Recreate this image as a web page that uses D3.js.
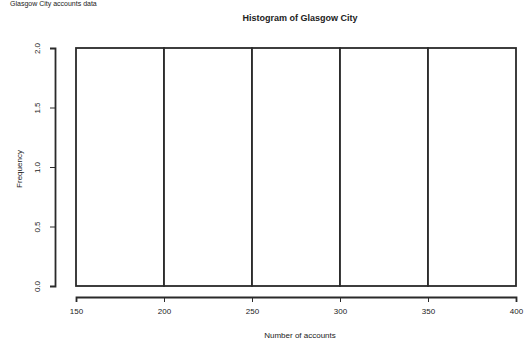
<!DOCTYPE html>
<html>
<head>
<meta charset="utf-8">
<script src="https://cdn.jsdelivr.net/npm/d3@7"></script>
<style>
  body { margin: 0; background: #fff; }
  text { font-family: "Liberation Sans", Arial, sans-serif; fill: #222; }
</style>
</head>
<body>
<div id="chart"></div>
<script>
// histogram bins (number of accounts) and counts
var binStarts = [150, 200, 250, 300, 350];
var binWidth = 50;
var counts = [2, 2, 2, 2, 2];
var xTicks = [150, 200, 250, 300, 350, 400];
var yTicks = [0, 0.5, 1, 1.5, 2];

var W = 525, H = 345;
var margin = {top: 48, right: 9, bottom: 59, left: 76};

var svg = d3.select("#chart").append("svg")
    .attr("width", W)
    .attr("height", H);

var xScale = d3.scaleLinear().domain([150, 400]).range([margin.left, W - margin.right]);
var yScale = d3.scaleLinear().domain([0, 2]).range([H - margin.bottom, margin.top]);

// bars
svg.selectAll("rect.bar")
    .data(binStarts)
  .enter().append("rect")
    .attr("class", "bar")
    .attr("x", function (d) { return xScale(d); })
    .attr("y", function (d, i) { return yScale(counts[i]); })
    .attr("width", function (d) { return xScale(d + binWidth) - xScale(d); })
    .attr("height", function (d, i) { return yScale(0) - yScale(counts[i]); })
    .attr("fill", "#fff")
    .attr("stroke", "#2a2a2a")
    .attr("stroke-width", 1.8);

// x axis, offset below the plot like base R
var xAxis = svg.append("g")
    .attr("transform", "translate(0," + (H - margin.bottom + 11) + ")")
    .call(d3.axisBottom(xScale).tickValues(xTicks).tickSize(5).tickPadding(6)
      .tickFormat(d3.format("d")));
xAxis.select(".domain").attr("stroke", "#2a2a2a").attr("stroke-width", 1.8);
xAxis.selectAll(".tick line").attr("stroke", "#2a2a2a");
xAxis.selectAll("text").style("font-size", "8px").attr("fill", "#222");

// y axis
var yAxis = svg.append("g")
    .attr("transform", "translate(" + (margin.left - 21) + ",0)")
    .call(d3.axisLeft(yScale).tickValues(yTicks).tickSize(5).tickPadding(8)
      .tickFormat(d3.format(".1f")));
yAxis.select(".domain").attr("stroke", "#2a2a2a").attr("stroke-width", 1.8);
yAxis.selectAll(".tick line").attr("stroke", "#2a2a2a");
yAxis.selectAll("text")
    .style("font-size", "8px")
    .attr("fill", "#222")
    .attr("text-anchor", "middle")
    .attr("dy", 0)
    .attr("transform", function () {
      return "rotate(-90," + d3.select(this).attr("x") + ",0) translate(0,-2)";
    });

// title and axis labels
svg.append("text")
    .attr("x", (xScale(150) + xScale(400)) / 2 + 4)
    .attr("y", 21)
    .attr("text-anchor", "middle")
    .style("font-size", "9px")
    .style("font-weight", "bold")
    .text("Histogram of Glasgow City");

svg.append("text")
    .attr("x", (xScale(150) + xScale(400)) / 2 + 4)
    .attr("y", 338)
    .attr("text-anchor", "middle")
    .style("font-size", "8px")
    .text("Number of accounts");

svg.append("text")
    .attr("transform", "translate(22," + (yScale(1) + 2) + ") rotate(-90)")
    .attr("text-anchor", "middle")
    .style("font-size", "8px")
    .text("Frequency");

// small caption at the very top left
svg.append("text")
    .attr("x", 10)
    .attr("y", 6)
    .style("font-size", "7px")
    .attr("fill", "#555")
    .text("Glasgow City accounts data");
</script>
</body>
</html>
